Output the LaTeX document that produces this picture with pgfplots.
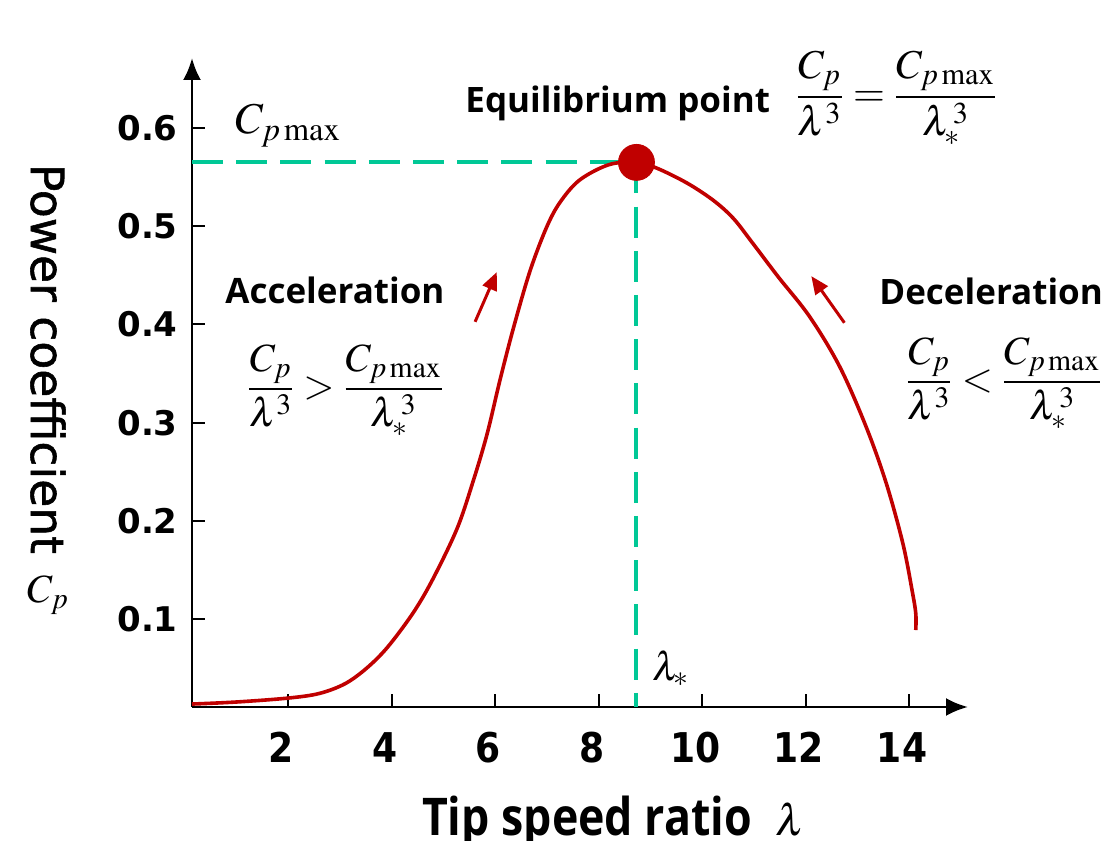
\documentclass[border=0pt]{standalone}
\usepackage{mathptmx}
\usepackage{fontspec}
\setmainfont{Liberation Serif}
\usepackage{pgfplots}
\pgfplotsset{compat=1.18}
\usetikzlibrary{arrows.meta}
\newfontfamily\labfont{Open Sans}
\newfontfamily\xlabfont{Open Sans}[FakeStretch=0.86]
\newfontfamily\tickfont{DejaVu Sans}
\newfontfamily\ylabfont{DejaVu Sans}[FakeBold=1.2]
\newfontfamily\xtickfont{DejaVu Sans}[FakeStretch=0.88]
\definecolor{cpred}{RGB}{192,0,0}
\definecolor{cpgreen}{RGB}{0,200,150}
\begin{document}
\begin{tikzpicture}
\useasboundingbox (-96pt,-66.5pt) rectangle (454.5pt,353.5pt);
\begin{axis}[
  at={(0pt,0pt)}, anchor=south west,
  scale only axis, width=388pt, height=324.5pt,
  xmin=0.137, xmax=15.14, ymin=0.0107, ymax=0.671,
  axis x line=bottom, axis y line=left,
  axis line style={line width=1.4pt, black, -{Latex[length=11pt,width=9pt]}},
  tick align=inside, major tick length=6.5pt,
  tick style={line width=1pt, black},
  xtick={2,4,6,8,10,12,14},
  ytick={0.1,0.2,0.3,0.4,0.5,0.6},
  yticklabels={0.1,0.2,0.3,0.4,0.5,0.6},
  /pgf/number format/assume math mode=true,
  yticklabel style={font=\tickfont\bfseries\fontsize{17}{19}\selectfont, anchor=east, inner sep=0pt, xshift=-7pt},
  xticklabel style={font=\xtickfont\bfseries\fontsize{20.5}{22}\selectfont, anchor=north, inner sep=0pt, yshift=-12.5pt, xshift=-3.5pt},
  clip=false,
]
% dashed guide lines
\addplot[cpgreen, line width=2pt, dash pattern=on 15.5pt off 6.6pt] coordinates {(0.137,0.5648) (8.73,0.5648)};
\addplot[cpgreen, line width=2pt, dash pattern=on 15.5pt off 6.6pt] coordinates {(8.73,0.5648) (8.73,0.0107)};
% power coefficient curve
\addplot[cpred, line width=1.8pt, smooth, tension=0.55] coordinates {
(0.137,0.0137) (1.0,0.0158) (2.0,0.0198) (2.6,0.0245) (3.1,0.0345) (3.52,0.0505)
(3.92,0.0717) (4.41,0.1063) (4.79,0.1405) (5.26,0.1920) (5.57,0.2400) (5.84,0.2880)
(6.09,0.3430) (6.35,0.3960) (6.67,0.4540) (6.99,0.4985) (7.25,0.5240) (7.63,0.5468)
(8.2,0.5625) (8.73,0.5648) (9.12,0.5590) (9.70,0.5440) (10.21,0.5264) (10.60,0.5080)
(10.98,0.4824) (11.47,0.4484) (12.08,0.4077) (12.66,0.3569) (13.17,0.2958)
(13.56,0.2382) (13.88,0.1772) (14.06,0.1290) (14.13,0.1060) (14.13,0.0890)
};
% equilibrium point
\addplot[only marks, mark=*, mark size=9pt, cpred, mark options={fill=cpred, draw=cpred}] coordinates {(8.73,0.5648)};
% direction arrows
\addplot[cpred, line width=1.5pt, -{Triangle[length=9pt,width=7.5pt]}] coordinates {(5.61,0.4026) (6.03,0.4532)};
\addplot[cpred, line width=1.5pt, -{Triangle[length=9pt,width=7.5pt]}] coordinates {(12.75,0.4016) (12.11,0.4491)};
\end{axis}
% annotations
\node[anchor=base west, inner sep=0pt] at (21.5pt,286.5pt) {\fontsize{22}{26}\selectfont$C_{p\max}$};
\node[anchor=base west, inner sep=0pt] at (136.5pt,297pt) {\labfont\bfseries\fontsize{17.5}{20}\selectfont Equilibrium point};
\node[anchor=base west, inner sep=0pt] at (301.5pt,300pt) {\fontsize{20.5}{24}\selectfont$\displaystyle\frac{C_p}{\lambda^3}=\frac{C_{p\max}}{\lambda_*^{\,3}}$};
\node[anchor=base west, inner sep=0pt] at (16.5pt,201.5pt) {\labfont\bfseries\fontsize{17.5}{20}\selectfont Acceleration};
\node[anchor=base west, inner sep=0pt] at (27.3pt,154pt) {\fontsize{20}{24}\selectfont$\displaystyle\frac{C_p}{\lambda^3}>\frac{C_{p\max}}{\lambda_*^{\,3}}$};
\node[anchor=base west, inner sep=0pt] at (343.5pt,201.3pt) {\labfont\bfseries\fontsize{17.5}{20}\selectfont Deceleration};
\node[anchor=base west, inner sep=0pt] at (356.5pt,157.6pt) {\fontsize{20}{24}\selectfont$\displaystyle\frac{C_p}{\lambda^3}<\frac{C_{p\max}}{\lambda_*^{\,3}}$};
\node[anchor=base west, inner sep=0pt] at (229.8pt,13.5pt) {\fontsize{20}{24}\selectfont$\lambda_*$};
\node[anchor=base west, inner sep=0pt] at (114.85pt,-64pt) {\xlabfont\bfseries\fontsize{26}{30}\selectfont Tip speed ratio\ \ {\fontsize{22}{26}\selectfont$\lambda$}};
\node[rotate=-90, inner sep=0pt] at (-72pt,174pt) {\ylabfont\fontsize{22.8}{26}\selectfont Power coefficient};
\node[inner sep=0pt] at (-72pt,56pt) {\fontsize{20}{24}\selectfont$C_p$};
\end{tikzpicture}
\end{document}
